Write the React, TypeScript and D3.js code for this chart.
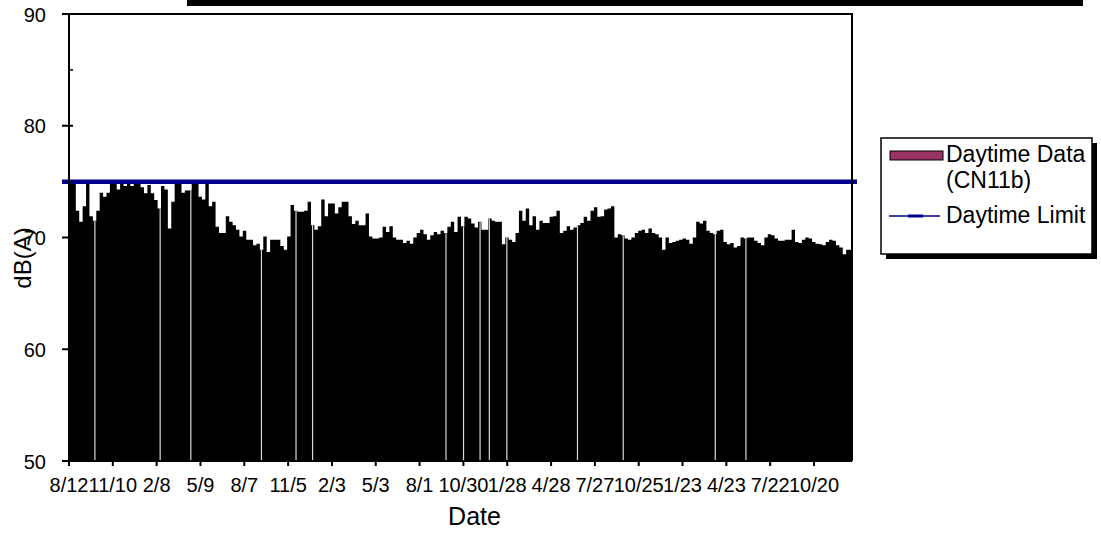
import React from "react";
import * as d3 from "d3";

// Weekly daytime noise levels, dB(A), starting 8/12 (one value per 7 days)
const weeklyLevels: number[] = [
  75.1, 75.1, 72.4, 71.4, 72.8, 75.0, 71.9, 71.5, 72.4, 74.0,
  73.65, 74.0, 74.85, 74.85, 74.3, 74.85, 74.6, 74.85, 74.6, 74.85,
  74.85, 74.5, 73.95, 74.7, 73.95, 73.35, 72.6, 74.6, 74.3, 70.8,
  73.2, 74.85, 74.85, 74.0, 74.2, 74.2, 74.85, 74.85, 73.65, 73.4,
  74.85, 72.8, 73.2, 70.97, 70.4, 70.4, 71.9, 71.4, 71.1, 70.7,
  70.1, 70.6, 69.8, 69.8, 69.3, 69.45, 68.9, 70.1,
  68.7, 69.8, 69.8, 69.8, 69.25, 68.9, 70.1, 72.9, 72.4, 72.3,
  72.3, 72.4, 73.2, 71.1, 70.7, 71.0, 73.4, 71.9, 73.05, 73.05,
  72.15, 72.7, 73.2, 73.2, 71.9, 71.2, 71.5, 71.1, 71.1, 72.15,
  70.1, 69.9, 69.9, 70.0, 70.97, 70.5, 71.0, 70.0, 69.8, 69.8,
  69.5, 69.7, 69.45, 70.0, 70.4, 70.7, 70.3, 69.8, 70.2, 70.5,
  70.3, 70.6, 70.4, 70.97, 71.4, 70.5, 71.85, 71.0,
  71.85, 71.7, 71.25, 70.9, 71.4, 70.7, 70.7, 71.7, 71.5, 71.4,
  71.4, 69.4, 70.0, 69.8, 69.6, 70.4, 72.4, 71.5, 72.6, 71.1,
  71.9, 70.7, 71.5, 71.3, 71.3, 71.85, 71.9, 72.4, 70.4, 70.6,
  71.0, 70.7, 70.9, 71.1, 71.3, 71.85, 71.5, 72.4, 72.7, 71.85,
  71.9, 72.5, 72.6, 72.8, 70.0, 70.3, 70.2, 69.9, 69.8, 70.0,
  70.4, 70.6, 70.7, 70.4, 70.8, 70.4, 70.3, 70.0,
  68.9, 70.0, 69.5, 69.6, 69.7, 69.8, 69.9, 69.8, 69.45, 70.0,
  71.4, 71.25, 71.5, 70.6, 70.4, 70.3, 70.6, 70.7, 69.6, 69.4,
  69.5, 69.1, 69.25, 70.0, 69.9, 70.0, 70.0, 69.7, 69.5, 69.3,
  70.0, 70.3, 70.2, 69.9, 69.7, 69.7, 69.8, 69.8, 70.7, 69.6,
  69.5, 69.8, 70.0, 69.9, 69.6, 69.45, 69.4, 69.3, 69.6, 69.8,
  69.7, 69.3, 69.1, 68.5, 68.9, 68.9,
];

// Days (from 8/12) with no data (white gaps)
const missingDays: number[] = [53, 187, 250, 395, 466, 500, 774, 810, 844, 863, 899, 1044, 1138, 1327, 1390];

const xTickLabels: string[] = [
  "8/12", "11/10", "2/8", "5/9", "8/7", "11/5", "2/3", "5/3", "8/1",
  "10/30", "1/28", "4/28", "7/27", "10/25", "1/23", "4/23", "7/22", "10/20",
];
const yTicks: number[] = [50, 60, 70, 80, 90];
const yMinorTicks: number[] = [55, 65, 75, 85];
const daytimeLimit = 75;
const totalDays = 1608;
const daysPerWeek = 7;
const tickEveryDays = 90;

const FONT = "'Liberation Sans', Arial, sans-serif";

export default function App() {
  const left = 69, right = 852, top = 14, bottom = 461;
  const x = d3.scaleLinear().domain([0, totalDays]).range([left, right]);
  const y = d3.scaleLinear().domain([50, 90]).range([bottom, top]);

  const pts = weeklyLevels.map((v, i) => ({ day: Math.min(i * daysPerWeek, totalDays), v }));
  pts.push({ day: totalDays, v: weeklyLevels[weeklyLevels.length - 1] });
  const area = d3
    .area<{ day: number; v: number }>()
    .x((d) => x(d.day))
    .y0(y(50))
    .y1((d) => y(d.v))
    .curve(d3.curveStepAfter);

  const levelAt = (day: number) => weeklyLevels[Math.min(Math.floor(day / daysPerWeek), weeklyLevels.length - 1)];

  return (
    <svg width={1101} height={535} style={{ position: "absolute", left: 0, top: 0, background: "#fff" }}>
      {/* title box shadow remnant */}
      <rect x={187} y={0} width={896} height={6} fill="#000" />

      {/* bars */}
      <path d={area(pts) || ""} fill="#000" />
      {missingDays.map((d, i) => (
        <rect key={i} x={x(d) - 0.5} width={1.2} y={y(levelAt(d))} height={y(50) - y(levelAt(d))} fill="#d8d8d8" />
      ))}

      {/* limit line */}
      <line x1={x(0) - 7} x2={x(totalDays) + 5} y1={y(daytimeLimit)} y2={y(daytimeLimit)} stroke="#000090" strokeWidth={4.5} />

      {/* frame */}
      <line x1={left - 7} x2={right + 1} y1={top} y2={top} stroke="#000" strokeWidth={2} />
      <line x1={right} x2={right} y1={top} y2={bottom} stroke="#000" strokeWidth={2} />
      <line x1={left} x2={left} y1={top} y2={bottom + 1} stroke="#000" strokeWidth={2} />
      <line x1={left} x2={right} y1={bottom} y2={bottom} stroke="#000" strokeWidth={2} />

      {/* y ticks */}
      {yTicks.map((t) => (
        <g key={t}>
          <line x1={left - 7} x2={left + 4} y1={y(t)} y2={y(t)} stroke="#000" strokeWidth={2} />
          <text x={46} y={y(t) + 7.5} textAnchor="end" fontFamily={FONT} fontSize={20} fill="#000">
            {t}
          </text>
        </g>
      ))}
      {yMinorTicks.map((t) => (
        <line key={t} x1={left} x2={left + 4} y1={y(t)} y2={y(t)} stroke="#000" strokeWidth={1.5} />
      ))}

      {/* x ticks */}
      {xTickLabels.map((lab, i) => (
        <g key={lab + i}>
          <line x1={x(i * tickEveryDays)} x2={x(i * tickEveryDays)} y1={bottom} y2={bottom + 5} stroke="#000" strokeWidth={2} />
          <text x={x(i * tickEveryDays)} y={491.5} textAnchor="middle" fontFamily={FONT} fontSize={20} fill="#000">
            {lab}
          </text>
        </g>
      ))}

      {/* axis titles */}
      <text x={474.5} y={525} textAnchor="middle" fontFamily={FONT} fontSize={25} fill="#000">
        Date
      </text>
      <text transform="translate(31,258) rotate(-90)" textAnchor="middle" fontFamily={FONT} fontSize={24} fill="#000">
        dB(A)
      </text>

      {/* legend */}
      <rect x={886} y={143} width={211} height={116} fill="#000" />
      <rect x={881} y={138} width={211} height={116} fill="#fff" stroke="#000" strokeWidth={1.5} />
      <rect x={890} y={151} width={53} height={9} fill="#993366" stroke="#000" strokeWidth={1} />
      <text x={946} y={162} fontFamily={FONT} fontSize={23} fill="#000">Daytime Data</text>
      <text x={946} y={188} fontFamily={FONT} fontSize={23} fill="#000">(CN11b)</text>
      <line x1={889} x2={940} y1={216} y2={216} stroke="#000090" strokeWidth={1.5} />
      <rect x={908} y={214.5} width={15} height={3} fill="#000090" />
      <text x={946} y={223} fontFamily={FONT} fontSize={23} fill="#000">Daytime Limit</text>
    </svg>
  );
}
